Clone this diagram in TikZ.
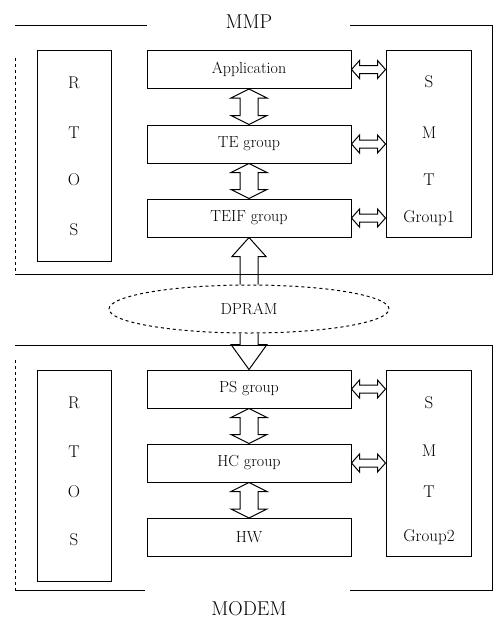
\documentclass[tikz,border=0pt]{standalone}
\usetikzlibrary{shapes.geometric,calc}

\tikzset{
    block/.style={
        draw, % box round the layer
        line width=1pt,
        minimum width=204pt,
        minimum height=38pt,
        inner sep=0pt,
        font=\fontsize{16}{19}\selectfont
    },
    pillar/.style={draw, line width=1pt, inner sep=0pt},
    letter/.style={inner sep=0pt, font=\fontsize{17}{20}\selectfont},
    frame/.style={line width=1pt},
    fatline/.style={draw, line width=1pt, line join=miter},
    % fat double arrow, left to right
    hfat/.style={to path={let \p1=(\tikztostart), \p2=(\tikztotarget) in
        -- (\x1+8pt,\y1+9pt) -- (\x1+8pt,\y1+4pt) -- (\x2-8pt,\y1+4pt) -- (\x2-8pt,\y1+9pt)
        -- (\x2,\y1)
        -- (\x2-8pt,\y1-9pt) -- (\x2-8pt,\y1-4pt) -- (\x1+8pt,\y1-4pt) -- (\x1+8pt,\y1-9pt)
        -- cycle}},
    % fat double arrow, top to bottom
    vfat/.style={to path={let \p1=(\tikztostart), \p2=(\tikztotarget) in
        -- (\x1+18pt,\y1-9pt) -- (\x1+9pt,\y1-9pt) -- (\x1+9pt,\y2+9pt) -- (\x1+18pt,\y2+9pt)
        -- (\x1,\y2)
        -- (\x1-18pt,\y2+9pt) -- (\x1-9pt,\y2+9pt) -- (\x1-9pt,\y1-9pt) -- (\x1-18pt,\y1-9pt)
        -- cycle}},
    % fat single arrow, pointing up
    upfat/.style={to path={let \p1=(\tikztostart), \p2=(\tikztotarget) in
        (\x1+9pt,\y1) -- (\x1+9pt,\y2-19pt) -- (\x1+17pt,\y2-19pt) -- (\x1,\y2)
        -- (\x1-17pt,\y2-19pt) -- (\x1-9pt,\y2-19pt) -- (\x1-9pt,\y1)}},
    % fat single arrow, pointing down
    downfat/.style={to path={let \p1=(\tikztostart), \p2=(\tikztotarget) in
        (\x1+9pt,\y1) -- (\x1+9pt,\y2+25pt) -- (\x1+18pt,\y2+25pt) -- (\x1,\y2)
        -- (\x1-18pt,\y2+25pt) -- (\x1-9pt,\y2+25pt) -- (\x1-9pt,\y1)}}
}

\begin{document}
\begin{tikzpicture}[x=1pt, y=-1pt]
\useasboundingbox (0,0) rectangle (497,622);

% MMP side
\draw[frame] (15,25) -- (147,25);
\draw[frame] (350,25) -- (492,25) -- (492,274) -- (15,274);
\draw[frame, dashed] (15,58) -- (15,274);
\node[font=\fontsize{20}{24}\selectfont, inner sep=0pt] (mmp) at (249,22) {MMP};

\node[pillar, minimum width=74pt, minimum height=211pt] (rtosA) at (74,155.5) {};
\node[pillar, minimum width=85pt, minimum height=187pt] (smtA) at (428.5,143.5) {};
\node[block] (app) at (249,69.5) {Application};
\node[block] (tegroup) at (249,144) {TE group};
\node[block] (teif) at (249,218) {TEIF group};

\foreach \ch/\yy [count=\i] in {R/83, T/133, O/180, S/230}
    \node[letter] (rtosA\i) at (74,\yy) {\ch};
\foreach \ch/\yy [count=\i] in {S/82, M/133, T/180, Group1/218}
    \node[letter] (smtA\i) at (429,\yy) {\ch};

\path[fatline] (app.south) to[vfat] (tegroup.north);
\path[fatline] (tegroup.south) to[vfat] (teif.north);
\path[fatline] (app.east) to[hfat] (smtA.west);
\path[fatline] (tegroup.east) to[hfat] (smtA.west);
\path[fatline] (teif.east) to[hfat] (smtA.west);

% shared memory
\node[ellipse, draw, dashed, line width=1pt, minimum width=280pt, minimum height=48pt,
      inner sep=0pt, font=\fontsize{16}{19}\selectfont] (dpram) at (249,309) {DPRAM};
\path[fatline] (dpram.north) to[upfat] (teif.south);

% MODEM side
\draw[frame] (15,345) -- (492,345) -- (492,590) -- (350,590);
\draw[frame] (145,590) -- (15,590);
\draw[frame, dashed] (15,360) -- (15,590);
\node[font=\fontsize{20}{24}\selectfont, inner sep=0pt] (modem) at (249,609) {MODEM};

\node[pillar, minimum width=74pt, minimum height=211pt] (rtosB) at (74,475.5) {};
\node[pillar, minimum width=85pt, minimum height=186pt] (smtB) at (428.5,463) {};
\node[block] (psgroup) at (249,389) {PS group};
\node[block] (hcgroup) at (249,463) {HC group};
\node[block] (hw) at (249,537.5) {HW};

\foreach \ch/\yy [count=\i] in {R/403, T/452, O/492, S/540}
    \node[letter] (rtosB\i) at (74,\yy) {\ch};
\foreach \ch/\yy [count=\i] in {S/403, M/451, T/492, Group2/537}
    \node[letter] (smtB\i) at (429,\yy) {\ch};

\path[fatline] (dpram.south) to[downfat] (psgroup.north);
\path[fatline] (psgroup.south) to[vfat] (hcgroup.north);
\path[fatline] (hcgroup.south) to[vfat] (hw.north);
\path[fatline] (psgroup.east) to[hfat] (smtB.west);
\path[fatline] (hcgroup.east) to[hfat] (smtB.west);
\end{tikzpicture}
\end{document}
